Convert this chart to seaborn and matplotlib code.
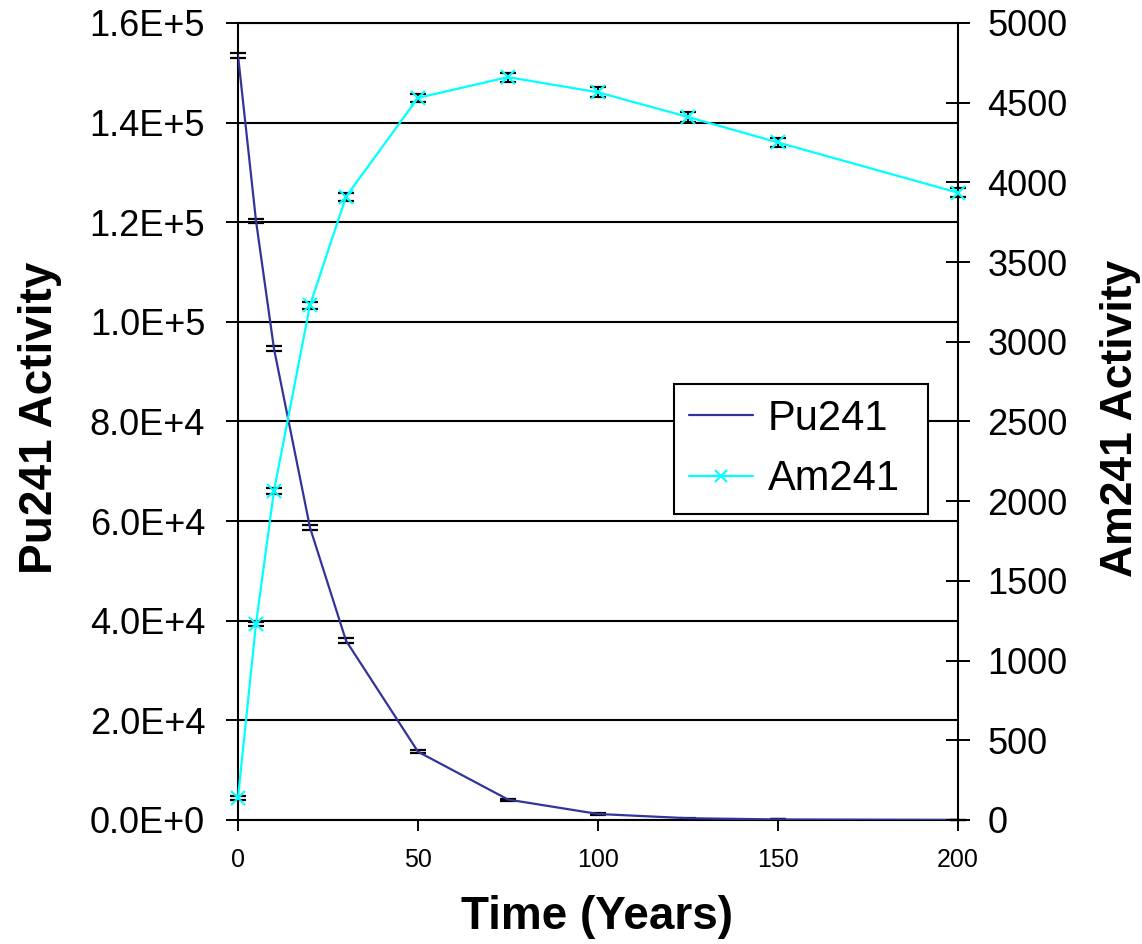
import numpy as np
import pandas as pd
import matplotlib
matplotlib.use("Agg")
import matplotlib.pyplot as plt
import seaborn as sns

# ---------------- data ----------------
years_pu = [0, 5, 10, 20, 30, 50, 75, 100, 125, 150, 200]
pu241 = [153500, 120300, 94600, 58700, 36000, 13700, 4100, 1200, 350, 100, 10]
pu241_err = [500, 400, 500, 500, 500, 300, 200, 150, 100, 0, 0]

years_am = [0, 5, 10, 20, 30, 50, 75, 100, 125, 150, 200]
am241 = [140, 1230, 2065, 3230, 3910, 4530, 4660, 4565, 4410, 4250, 3935]
am241_err = [12, 15, 20, 22, 25, 25, 28, 30, 30, 30, 30]

left_ticks = [0, 20000, 40000, 60000, 80000, 100000, 120000, 140000, 160000]
left_tick_labels = ["0.0E+0", "2.0E+4", "4.0E+4", "6.0E+4", "8.0E+4",
                    "1.0E+5", "1.2E+5", "1.4E+5", "1.6E+5"]
right_ticks = [0, 500, 1000, 1500, 2000, 2500, 3000, 3500, 4000, 4500, 5000]
right_tick_labels = ["0", "500", "1000", "1500", "2000", "2500", "3000",
                     "3500", "4000", "4500", "5000"]
x_ticks = [0, 50, 100, 150, 200]
x_tick_labels = ["0", "50", "100", "150", "200"]

PU_COLOR = "#333399"
AM_COLOR = "#00FFFF"

# ---------------- style ----------------
sns.set_style("white")
plt.rcParams["font.family"] = ["Liberation Sans", "DejaVu Sans"]

fig = plt.figure(figsize=(11.42, 9.44), dpi=100)
ax = fig.add_axes([0.2084, 0.1314, 0.6305, 0.8443])
ax2 = ax.twinx()

df_pu = pd.DataFrame({"Time": years_pu, "Activity": pu241, "err": pu241_err})
df_am = pd.DataFrame({"Time": years_am, "Activity": am241, "err": am241_err})

# Pu241 on left axis
ax.errorbar(df_pu["Time"], df_pu["Activity"], yerr=df_pu["err"], fmt="none",
            ecolor="black", elinewidth=1.4, capsize=6, capthick=1.6, zorder=2,
            clip_on=False)
sns.lineplot(data=df_pu, x="Time", y="Activity", ax=ax, color=PU_COLOR,
             linewidth=1.6, label="Pu241", zorder=3)

# Am241 on right axis
ax2.errorbar(df_am["Time"], df_am["Activity"], yerr=df_am["err"], fmt="none",
             ecolor="black", elinewidth=1.4, capsize=6, capthick=1.6, zorder=2,
             clip_on=False)
sns.lineplot(data=df_am, x="Time", y="Activity", ax=ax2, color=AM_COLOR,
             linewidth=1.6, marker="x", markersize=10, markeredgewidth=1.5,
             markeredgecolor=AM_COLOR, label="Am241", zorder=3, clip_on=False)

for a in (ax, ax2):
    lg = a.get_legend()
    if lg is not None:
        lg.remove()

# axes limits & ticks
ax.set_xlim(0, 200)
ax.set_ylim(0, 160000)
ax2.set_ylim(0, 5000)

ax.set_xticks(x_ticks)
ax.set_xticklabels(x_tick_labels, fontsize=18)
ax.set_yticks(left_ticks)
ax.set_yticklabels(left_tick_labels, fontsize=26)
ax2.set_yticks(right_ticks)
ax2.set_yticklabels(right_tick_labels, fontsize=26)

ax.tick_params(axis="x", direction="out", length=8, width=1.4, pad=12,
               colors="black", bottom=True)
ax.tick_params(axis="y", direction="out", length=8.6, width=1.4, pad=15,
               colors="black", left=True)
ax2.tick_params(axis="y", direction="inout", length=17, width=1.4, pad=12.5,
                colors="black", right=True)

ax.grid(axis="y", color="black", linewidth=1.5)
ax.grid(axis="x", visible=False)
ax2.grid(False)
ax.set_axisbelow(True)

for a in (ax, ax2):
    for s in a.spines.values():
        s.set_color("black")
        s.set_linewidth(1.5)
ax.spines["right"].set_visible(False)
ax2.spines["left"].set_visible(False)
ax2.spines["bottom"].set_visible(False)
ax.spines["top"].set_visible(True)
ax2.spines["top"].set_visible(False)

# labels
ax.set_xlabel("Time (Years)", fontsize=33, fontweight="bold", color="black")
ax.set_ylabel("Pu241 Activity", fontsize=33, fontweight="bold", color="black")
ax2.set_ylabel("Am241 Activity", fontsize=32, fontweight="bold",
               color="black", rotation=90)
ax.xaxis.set_label_coords(0.499, -0.094)
ax.yaxis.set_label_coords(-0.2444, 0.5044)
ax2.yaxis.set_label_coords(1.1972, 0.5044)

# legend
h1, l1 = ax.get_legend_handles_labels()
h2, l2 = ax2.get_legend_handles_labels()
leg = ax2.legend(h1 + h2, l1 + l2, loc="upper left",
                 bbox_to_anchor=(0.6056, 0.385, 0.3528, 0.162),
                 mode="expand", borderaxespad=0,
                 fontsize=30, frameon=True, fancybox=False, framealpha=1,
                 edgecolor="black", facecolor="white", handlelength=1.55,
                 handletextpad=0.35, labelspacing=0.5, borderpad=0.35,
                 numpoints=1, markerscale=0.8)
leg.get_frame().set_linewidth(1.5)
for t in leg.get_texts():
    t.set_color("black")

fig.savefig("out.png", dpi=100, facecolor="white")
